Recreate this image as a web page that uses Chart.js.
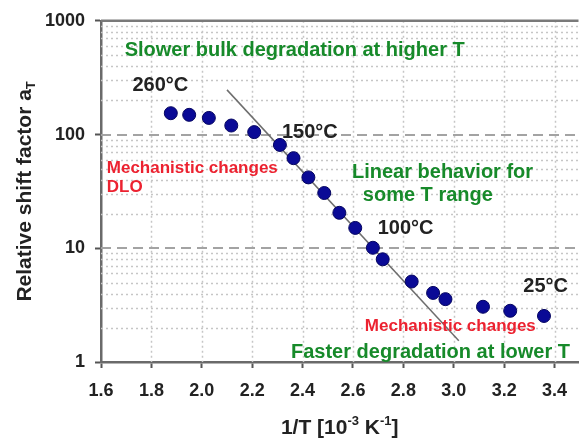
<!DOCTYPE html>
<html>
<head>
<meta charset="utf-8">
<script src="https://cdn.jsdelivr.net/npm/chart.js@4/dist/chart.umd.min.js"></script>
<style>
  html, body { margin: 0; padding: 0; background: #fff; }
  #wrap { width: 586px; height: 440px; }
</style>
</head>
<body>
<div id="wrap"><canvas id="chart"></canvas></div>
<script>
// measured points: 1/T [10^-3 K^-1] vs relative shift factor
const invT = [1.877, 1.950, 2.028, 2.117, 2.208, 2.310, 2.364, 2.423, 2.486, 2.546,
  2.609, 2.679, 2.718, 2.833, 2.918, 2.967, 3.116, 3.224, 3.358];
const shiftFactor = [154, 149, 140, 120, 105, 81, 62, 42, 30.6, 20.5,
  15.1, 10.1, 8.0, 5.1, 4.05, 3.57, 3.06, 2.82, 2.54];

// linear (Arrhenius) fit line end points
const fitX = [2.10, 3.02];
const fitY = [247, 1.54];

const xTicks = [1.6, 1.8, 2.0, 2.2, 2.4, 2.6, 2.8, 3.0, 3.2, 3.4];
const yTicks = [1, 10, 100, 1000];

const GREEN = "#178a2a";
const RED = "#ec2230";
const DARK = "#222";

// text notes placed in data coordinates (left edge, vertical middle)
const notes = [
  { text: "Slower bulk degradation at higher T", x: 1.694, y: 546, color: GREEN, size: 20 },
  { text: "260°C", x: 1.725, y: 269, color: DARK, size: 20 },
  { text: "150°C", x: 2.318, y: 104, color: DARK, size: 20 },
  { text: "Mechanistic changes", x: 1.623, y: 50.3, color: RED, size: 17 },
  { text: "DLO", x: 1.623, y: 34.3, color: RED, size: 17 },
  { text: "Linear behavior for", x: 2.596, y: 46.4, color: GREEN, size: 20 },
  { text: "some T range", x: 2.639, y: 29.2, color: GREEN, size: 20 },
  { text: "100°C", x: 2.698, y: 15.0, color: DARK, size: 20 },
  { text: "25°C", x: 3.276, y: 4.64, color: DARK, size: 20 },
  { text: "Mechanistic changes", x: 2.647, y: 2.07, color: RED, size: 17 },
  { text: "Faster degradation at lower T", x: 2.354, y: 1.22, color: GREEN, size: 20 },
];

const FONT = "'Liberation Sans', Arial, sans-serif";

const gridPlugin = {
  id: "grid",
  beforeDatasetsDraw(chart) {
    const { ctx, chartArea: a, scales } = chart;
    const xs = scales.x, ys = scales.y;
    ctx.save();
    // dotted vertical lines
    ctx.strokeStyle = "#c6c6c6";
    ctx.lineWidth = 1.5;
    ctx.setLineDash([2, 3]);
    xTicks.slice(1).forEach((v) => {
      const px = Math.round(xs.getPixelForValue(v)) + 0.5;
      ctx.beginPath();
      ctx.moveTo(px, a.top);
      ctx.lineTo(px, a.bottom);
      ctx.stroke();
    });
    // dotted minor horizontal lines
    [1, 10, 100].forEach((d) => {
      for (let m = 2; m <= 9; m++) {
        const py = Math.round(ys.getPixelForValue(d * m)) + 0.5;
        ctx.beginPath();
        ctx.moveTo(a.left, py);
        ctx.lineTo(a.right, py);
        ctx.stroke();
      }
    });
    // dashed major lines
    ctx.strokeStyle = "#a3a3a3";
    ctx.lineWidth = 2;
    ctx.setLineDash([10, 6]);
    [10, 100].forEach((v) => {
      const py = Math.round(ys.getPixelForValue(v));
      ctx.beginPath();
      ctx.moveTo(a.left, py);
      ctx.lineTo(a.right, py);
      ctx.stroke();
    });
    // top frame line
    ctx.setLineDash([]);
    ctx.strokeStyle = "#7a7a7a";
    ctx.lineWidth = 2.5;
    ctx.beginPath();
    ctx.moveTo(a.left, a.top);
    ctx.lineTo(a.right, a.top);
    ctx.stroke();
    ctx.restore();
  },
  afterDraw(chart) {
    const { ctx, chartArea: a, scales } = chart;
    ctx.save();
    ctx.textBaseline = "middle";
    ctx.textAlign = "left";
    notes.forEach((n) => {
      ctx.font = "bold " + n.size + "px " + FONT;
      ctx.fillStyle = n.color;
      ctx.fillText(n.text, scales.x.getPixelForValue(n.x), scales.y.getPixelForValue(n.y));
    });

    // y axis title with subscript
    ctx.fillStyle = DARK;
    ctx.translate(25, (a.top + a.bottom) / 2);
    ctx.rotate(-Math.PI / 2);
    const main = "Relative shift factor a";
    ctx.font = "bold 21px " + FONT;
    const wMain = ctx.measureText(main).width;
    ctx.font = "bold 13px " + FONT;
    const wSub = ctx.measureText("T").width;
    let x0 = -(wMain + wSub) / 2;
    ctx.font = "bold 21px " + FONT;
    ctx.fillText(main, x0, 0);
    ctx.font = "bold 13px " + FONT;
    ctx.fillText("T", x0 + wMain, 6);
    ctx.setTransform(1, 0, 0, 1, 0, 0);

    // x axis title with superscripts
    const parts = [
      { t: "1/T [10", sup: false },
      { t: "-3", sup: true },
      { t: " K", sup: false },
      { t: "-1", sup: true },
      { t: "]", sup: false },
    ];
    let total = 0;
    parts.forEach((p) => {
      ctx.font = (p.sup ? "bold 13px " : "bold 21px ") + FONT;
      p.w = ctx.measureText(p.t).width;
      total += p.w;
    });
    let cx = (a.left + a.right) / 2 - total / 2;
    parts.forEach((p) => {
      ctx.font = (p.sup ? "bold 13px " : "bold 21px ") + FONT;
      ctx.fillText(p.t, cx, p.sup ? 421 : 428);
      cx += p.w;
    });
    ctx.restore();
  },
};

new Chart(document.getElementById("chart"), {
  type: "scatter",
  data: {
    datasets: [
      {
        label: "shift factor",
        data: invT.map((x, i) => ({ x: x, y: shiftFactor[i] })),
        backgroundColor: "#0a0a96",
        borderColor: "#050560",
        borderWidth: 1,
        pointRadius: 6.5,
        order: 0,
      },
      {
        label: "fit",
        type: "line",
        data: fitX.map((x, i) => ({ x: x, y: fitY[i] })),
        borderColor: "#6e6e6e",
        borderWidth: 1.5,
        pointRadius: 0,
        fill: false,
        order: 1,
      },
    ],
  },
  options: {
    responsive: true,
    maintainAspectRatio: false,
    animation: false,
    layout: { padding: { top: 20, left: 0, right: 0, bottom: 0 } },
    plugins: {
      legend: { display: false },
      tooltip: { enabled: false },
    },
    scales: {
      x: {
        type: "linear",
        min: 1.6,
        max: 3.495,
        afterBuildTicks: (s) => { s.ticks = xTicks.map((v) => ({ value: v })); },
        afterFit: (s) => { s.height = 78; },
        grid: { drawOnChartArea: false, tickLength: 6, tickColor: "#555", tickWidth: 2 },
        border: { color: "#6a6a6a", width: 2.5 },
        ticks: {
          padding: 12,
          color: DARK,
          font: { family: FONT, size: 18, weight: "bold" },
          callback: (v) => v.toFixed(1),
        },
      },
      y: {
        type: "logarithmic",
        min: 1,
        max: 1000,
        afterBuildTicks: (s) => { s.ticks = yTicks.map((v) => ({ value: v })); },
        afterFit: (s) => { s.width = 101; },
        grid: { drawOnChartArea: false, tickLength: 6, tickColor: "#555", tickWidth: 2 },
        border: { color: "#6a6a6a", width: 2.5 },
        ticks: {
          padding: 10,
          color: DARK,
          font: { family: FONT, size: 18, weight: "bold" },
          callback: (v) => String(v),
        },
      },
    },
  },
  plugins: [gridPlugin],
});
</script>
</body>
</html>
